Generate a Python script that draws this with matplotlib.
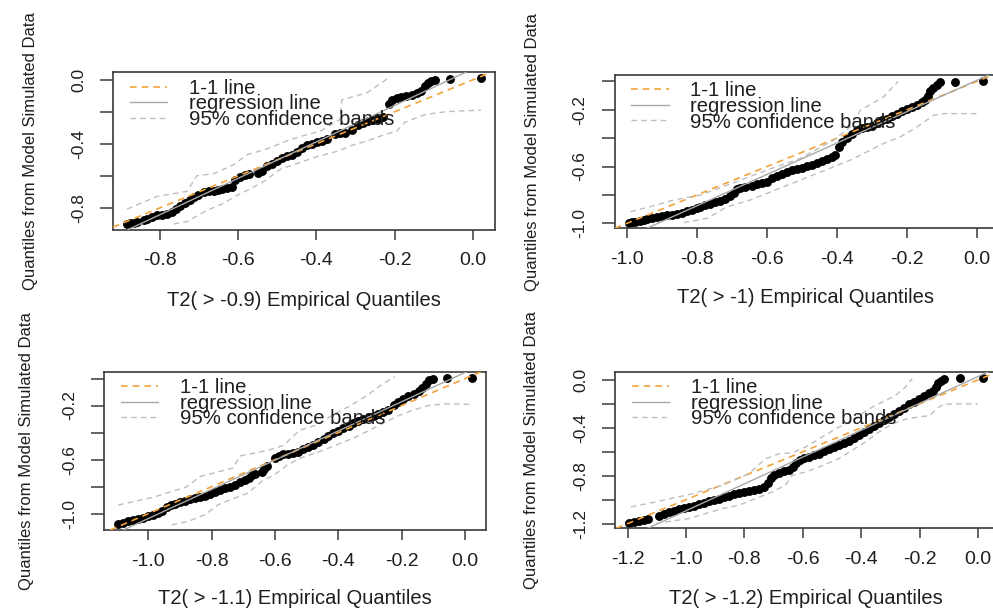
import numpy as np
import matplotlib
matplotlib.use("Agg")
import matplotlib.pyplot as plt

plt.rcParams['font.family'] = ['Liberation Sans', 'DejaVu Sans']

# ---------------- data ----------------
titles = ["T2( > -0.9) Empirical Quantiles", "T2( > -1) Empirical Quantiles",
          "T2( > -1.1) Empirical Quantiles", "T2( > -1.2) Empirical Quantiles"]
ylabel_text = "Quantiles from Model Simulated Data"
legend_labels = ["1-1 line", "regression line", "95% confidence bands"]

# panel 1: threshold -0.9
t09_emp = [-0.883, -0.875, -0.866, -0.858, -0.841, -0.832, -0.820, -0.807, -0.794, -0.781, -0.769, -0.758,
           -0.747, -0.735, -0.722, -0.713, -0.701, -0.688, -0.675, -0.662, -0.650, -0.641, -0.628, -0.616,
           -0.607, -0.594, -0.582, -0.572, -0.549, -0.539, -0.527, -0.514, -0.501, -0.488, -0.476, -0.463,
           -0.450, -0.437, -0.425, -0.412, -0.399, -0.386, -0.374, -0.352, -0.340, -0.327, -0.310, -0.293,
           -0.280, -0.268, -0.255, -0.242, -0.229, -0.215, -0.206, -0.195, -0.183, -0.170, -0.157, -0.144,
           -0.132, -0.123, -0.115, -0.106, -0.098, -0.059, 0.020]
t09_mod = [-0.898, -0.896, -0.894, -0.888, -0.873, -0.867, -0.857, -0.846, -0.842, -0.836, -0.827, -0.805,
           -0.790, -0.771, -0.748, -0.732, -0.717, -0.703, -0.696, -0.694, -0.690, -0.682, -0.676, -0.672,
           -0.624, -0.609, -0.593, -0.586, -0.582, -0.568, -0.541, -0.524, -0.505, -0.489, -0.478, -0.468,
           -0.451, -0.426, -0.410, -0.401, -0.389, -0.380, -0.368, -0.339, -0.335, -0.331, -0.312, -0.281,
           -0.270, -0.260, -0.249, -0.245, -0.232, -0.150, -0.128, -0.114, -0.110, -0.104, -0.098, -0.083,
           -0.069, -0.042, -0.021, -0.006, 0.000, 0.006, 0.010]
t09_up_x = [-0.883, -0.807, -0.730, -0.705, -0.662, -0.611, -0.577, -0.527, -0.467, -0.425, -0.391, -0.340,
            -0.335, -0.272, -0.210]
t09_up_y = [-0.807, -0.728, -0.696, -0.599, -0.586, -0.530, -0.468, -0.432, -0.374, -0.343, -0.322, -0.249,
            -0.125, -0.083, 0.020]
t09_lo_x = [-0.764, -0.730, -0.684, -0.641, -0.599, -0.565, -0.531, -0.493, -0.446, -0.399, -0.344, -0.310,
            -0.268, -0.229, -0.195, -0.174, -0.123, -0.089, -0.047, 0.020]
t09_lo_y = [-0.900, -0.885, -0.821, -0.775, -0.717, -0.676, -0.630, -0.560, -0.520, -0.480, -0.445, -0.410,
            -0.380, -0.345, -0.322, -0.265, -0.218, -0.205, -0.196, -0.190]

# panel 2: threshold -1
t10_emp = [-0.995, -0.986, -0.976, -0.962, -0.952, -0.943, -0.929, -0.914, -0.900, -0.886, -0.871, -0.857,
           -0.843, -0.829, -0.814, -0.800, -0.790, -0.776, -0.762, -0.748, -0.733, -0.719, -0.705, -0.695,
           -0.686, -0.676, -0.662, -0.643, -0.629, -0.614, -0.600, -0.586, -0.571, -0.557, -0.543, -0.529,
           -0.514, -0.500, -0.486, -0.471, -0.457, -0.443, -0.429, -0.414, -0.405, -0.395, -0.384, -0.371,
           -0.357, -0.343, -0.329, -0.314, -0.300, -0.286, -0.271, -0.257, -0.243, -0.229, -0.214, -0.200,
           -0.186, -0.171, -0.157, -0.148, -0.140, -0.133, -0.124, -0.114, -0.105, -0.062, 0.017]
t10_mod = [-0.995, -0.993, -0.991, -0.981, -0.976, -0.969, -0.960, -0.953, -0.948, -0.944, -0.939, -0.932,
           -0.925, -0.915, -0.906, -0.894, -0.882, -0.871, -0.861, -0.852, -0.840, -0.826, -0.807, -0.784,
           -0.758, -0.751, -0.746, -0.734, -0.725, -0.715, -0.706, -0.682, -0.666, -0.652, -0.640, -0.624,
           -0.616, -0.607, -0.595, -0.586, -0.574, -0.562, -0.548, -0.532, -0.518, -0.464, -0.424, -0.400,
           -0.369, -0.341, -0.329, -0.322, -0.313, -0.294, -0.275, -0.264, -0.247, -0.231, -0.212, -0.195,
           -0.181, -0.165, -0.146, -0.129, -0.106, -0.071, -0.047, -0.024, -0.007, -0.005, 0.005]
t10_up_x = [-0.990, -0.933, -0.867, -0.790, -0.695, -0.600, -0.505, -0.410, -0.362, -0.333, -0.267, -0.225]
t10_up_y = [-0.918, -0.883, -0.836, -0.801, -0.714, -0.625, -0.543, -0.415, -0.321, -0.204, -0.110, 0.000]
t10_lo_x = [-0.838, -0.771, -0.714, -0.648, -0.552, -0.457, -0.362, -0.314, -0.267, -0.219, -0.171, -0.124,
            -0.095, 0.010]
t10_lo_y = [-0.995, -0.965, -0.883, -0.836, -0.742, -0.649, -0.555, -0.496, -0.438, -0.391, -0.321, -0.239,
            -0.227, -0.227]

# panel 3: threshold -1.1
t11_emp = [-1.095, -1.079, -1.063, -1.047, -1.032, -1.016, -1.000, -0.984, -0.968, -0.958, -0.942, -0.928,
           -0.916, -0.900, -0.884, -0.868, -0.853, -0.837, -0.821, -0.805, -0.789, -0.774, -0.758, -0.742,
           -0.726, -0.711, -0.695, -0.682, -0.672, -0.663, -0.642, -0.634, -0.626, -0.600, -0.589, -0.574,
           -0.558, -0.542, -0.526, -0.511, -0.495, -0.479, -0.463, -0.447, -0.432, -0.416, -0.400, -0.384,
           -0.368, -0.353, -0.337, -0.321, -0.305, -0.289, -0.274, -0.258, -0.242, -0.226, -0.211, -0.195,
           -0.179, -0.163, -0.147, -0.135, -0.124, -0.114, -0.103, -0.058, 0.021]
t11_mod = [-1.077, -1.067, -1.057, -1.047, -1.040, -1.030, -1.020, -1.007, -0.995, -0.978, -0.953, -0.938,
           -0.928, -0.915, -0.903, -0.893, -0.883, -0.876, -0.866, -0.853, -0.838, -0.826, -0.813, -0.799,
           -0.784, -0.769, -0.754, -0.734, -0.714, -0.709, -0.689, -0.672, -0.647, -0.585, -0.570, -0.560,
           -0.555, -0.550, -0.540, -0.525, -0.510, -0.493, -0.473, -0.448, -0.423, -0.403, -0.386, -0.368,
           -0.348, -0.328, -0.311, -0.299, -0.286, -0.274, -0.261, -0.249, -0.231, -0.199, -0.174, -0.149,
           -0.132, -0.117, -0.092, -0.067, -0.037, -0.012, 0.000, 0.007, 0.007]
t11_up_x = [-1.095, -0.984, -0.879, -0.837, -0.732, -0.711, -0.627, -0.574, -0.522, -0.469, -0.416, -0.364,
            -0.311, -0.259, -0.222]
t11_up_y = [-0.936, -0.878, -0.802, -0.725, -0.662, -0.573, -0.534, -0.496, -0.382, -0.344, -0.267, -0.204,
            -0.127, -0.038, 0.013]
t11_lo_x = [-0.926, -0.874, -0.821, -0.779, -0.726, -0.684, -0.642, -0.600, -0.558, -0.516, -0.453, -0.400,
            -0.347, -0.305, -0.263, -0.221, -0.168, -0.116, -0.063, 0.021]
t11_lo_y = [-1.082, -1.057, -1.007, -0.933, -0.883, -0.846, -0.759, -0.709, -0.634, -0.585, -0.535, -0.485,
            -0.435, -0.386, -0.336, -0.286, -0.236, -0.199, -0.187, -0.192]

# panel 4: threshold -1.2
t12_emp = [-1.195, -1.177, -1.160, -1.143, -1.129, -1.092, -1.075, -1.058, -1.041, -1.024, -1.007, -0.990,
           -0.973, -0.956, -0.939, -0.922, -0.904, -0.887, -0.870, -0.853, -0.836, -0.819, -0.802, -0.785,
           -0.768, -0.751, -0.734, -0.720, -0.709, -0.697, -0.683, -0.666, -0.648, -0.634, -0.622, -0.611,
           -0.595, -0.578, -0.561, -0.544, -0.527, -0.510, -0.493, -0.476, -0.458, -0.441, -0.424, -0.407,
           -0.390, -0.373, -0.356, -0.339, -0.322, -0.305, -0.288, -0.271, -0.254, -0.237, -0.220, -0.203,
           -0.185, -0.168, -0.154, -0.144, -0.137, -0.127, -0.116, -0.063, 0.017]
t12_mod = [-1.191, -1.186, -1.177, -1.166, -1.158, -1.136, -1.122, -1.105, -1.091, -1.080, -1.072, -1.061,
           -1.050, -1.039, -1.025, -1.014, -1.003, -0.992, -0.981, -0.970, -0.956, -0.945, -0.936, -0.928,
           -0.920, -0.909, -0.892, -0.859, -0.820, -0.792, -0.776, -0.765, -0.753, -0.731, -0.693, -0.665,
           -0.654, -0.643, -0.629, -0.615, -0.598, -0.579, -0.562, -0.546, -0.526, -0.507, -0.485, -0.460,
           -0.438, -0.413, -0.388, -0.363, -0.338, -0.313, -0.288, -0.263, -0.233, -0.205, -0.183, -0.161,
           -0.136, -0.111, -0.091, -0.058, -0.028, -0.006, 0.008, 0.020, 0.018]
t12_up_x = [-1.189, -1.104, -0.990, -0.876, -0.785, -0.728, -0.683, -0.637, -0.592, -0.535, -0.478, -0.421,
            -0.375, -0.330, -0.284, -0.250, -0.225]
t12_up_y = [-1.061, -1.019, -0.958, -0.881, -0.784, -0.659, -0.618, -0.609, -0.562, -0.479, -0.396, -0.327,
            -0.244, -0.188, -0.133, -0.064, 0.010]
t12_lo_x = [-1.104, -0.990, -0.933, -0.876, -0.819, -0.762, -0.705, -0.660, -0.637, -0.592, -0.546, -0.478,
            -0.432, -0.387, -0.341, -0.296, -0.250, -0.205, -0.165, -0.140, -0.120, -0.080, 0.000]
t12_lo_y = [-1.199, -1.158, -1.116, -1.075, -1.047, -0.992, -0.936, -0.881, -0.798, -0.770, -0.729, -0.659,
            -0.590, -0.521, -0.438, -0.370, -0.330, -0.310, -0.298, -0.240, -0.205, -0.200, -0.200]

x_ticks = [[-0.8, -0.6, -0.4, -0.2, 0.0],
           [-1.0, -0.8, -0.6, -0.4, -0.2, 0.0],
           [-1.0, -0.8, -0.6, -0.4, -0.2, 0.0],
           [-1.2, -1.0, -0.8, -0.6, -0.4, -0.2, 0.0]]
y_ticks = [[0.0, -0.2, -0.4, -0.6, -0.8],
           [0.0, -0.2, -0.4, -0.6, -0.8, -1.0],
           [0.0, -0.2, -0.4, -0.6, -0.8, -1.0],
           [0.0, -0.2, -0.4, -0.6, -0.8, -1.0, -1.2]]
y_ticklabels = [["0.0", "", "-0.4", "", "-0.8"],
                ["", "-0.2", "", "-0.6", "", "-1.0"],
                ["", "-0.2", "", "-0.6", "", "-1.0"],
                ["0.0", "", "-0.4", "", "-0.8", "", "-1.2"]]

panels = [
    (t09_emp, t09_mod, t09_up_x, t09_up_y, t09_lo_x, t09_lo_y),
    (t10_emp, t10_mod, t10_up_x, t10_up_y, t10_lo_x, t10_lo_y),
    (t11_emp, t11_mod, t11_up_x, t11_up_y, t11_lo_x, t11_lo_y),
    (t12_emp, t12_mod, t12_up_x, t12_up_y, t12_lo_x, t12_lo_y),
]

# ---------------- layout ----------------
W, H = 993, 610
# (left, top, right, bottom) in pixels
boxes = [(113, 72.3, 495, 229.5), (614.5, 75, 997, 228.3),
         (104, 371.7, 486, 530), (615, 371.7, 997, 528.3)]
ylab_x = [-0.196, -0.195, -0.184, -0.200]
xlab_y = [-0.392, -0.392, -0.375, -0.39]

ORANGE = "#F2A33A"
REG = "#A8A8A8"
BAND = "#BEBEBE"
TXT = "#1E1E1E"
FRAME = "#3A3A3A"

fig = plt.figure(figsize=(W / 100, H / 100), dpi=100)
fig.patch.set_facecolor("white")

for i, (emp, mod, ux, uy, lx, ly) in enumerate(panels):
    l, t, r, b = boxes[i]
    ax = fig.add_axes([l / W, 1 - b / H, (r - l) / W, (b - t) / H])
    emp_a = np.asarray(emp)
    mod_a = np.asarray(mod)

    ax.plot(emp_a, mod_a, linestyle="none", marker="o", ms=6.4, color="black",
            markeredgewidth=0, zorder=2)
    slope, icpt = np.polyfit(emp_a, mod_a, 1)
    h11 = ax.axline((0, 0), slope=1, color=ORANGE, lw=1.2, dashes=(4, 3), zorder=3,
                    label=legend_labels[0])
    hreg = ax.axline((0, icpt), slope=slope, color=REG, lw=1.0, zorder=3,
                     label=legend_labels[1])
    hband, = ax.plot(ux, uy, color=BAND, lw=1.0, dashes=(4, 3), zorder=3,
                     label=legend_labels[2])
    ax.plot(lx, ly, color=BAND, lw=1.0, dashes=(4, 3), zorder=3)

    xr = emp_a.max() - emp_a.min()
    yr = mod_a.max() - mod_a.min()
    ax.set_xlim(emp_a.min() - 0.04 * xr, emp_a.max() + 0.04 * xr)
    ax.set_ylim(mod_a.min() - 0.04 * yr, mod_a.max() + 0.04 * yr)

    ax.set_xticks(x_ticks[i])
    ax.set_xticklabels([f"{v:.1f}" for v in x_ticks[i]], fontsize=14, color=TXT)
    ax.set_yticks(y_ticks[i])
    ax.set_yticklabels(y_ticklabels[i], fontsize=12.5, color=TXT, rotation=90, va="center")
    ax.tick_params(axis="x", length=7.5, width=1.1, color=FRAME, pad=9)
    ax.tick_params(axis="y", length=9.5, width=1.1, color=FRAME, pad=10)
    for sp in ax.spines.values():
        sp.set_color(FRAME)
        sp.set_linewidth(1.2)

    ax.set_xlabel(titles[i], fontsize=14.5, color=TXT)
    ax.xaxis.set_label_coords(0.5, xlab_y[i])
    ax.set_ylabel(ylabel_text, fontsize=12, color=TXT)
    ax.yaxis.set_label_coords(ylab_x[i], 0.5)

    ax.legend(handles=[h11, hreg, hband], loc="upper left",
              bbox_to_anchor=(0.044, 0.958), frameon=False, fontsize=14.6,
              handlelength=1.85, handletextpad=1.05, labelspacing=-0.17,
              borderpad=0, borderaxespad=0, labelcolor=TXT)

fig.savefig("out.png", dpi=100, facecolor="white")
